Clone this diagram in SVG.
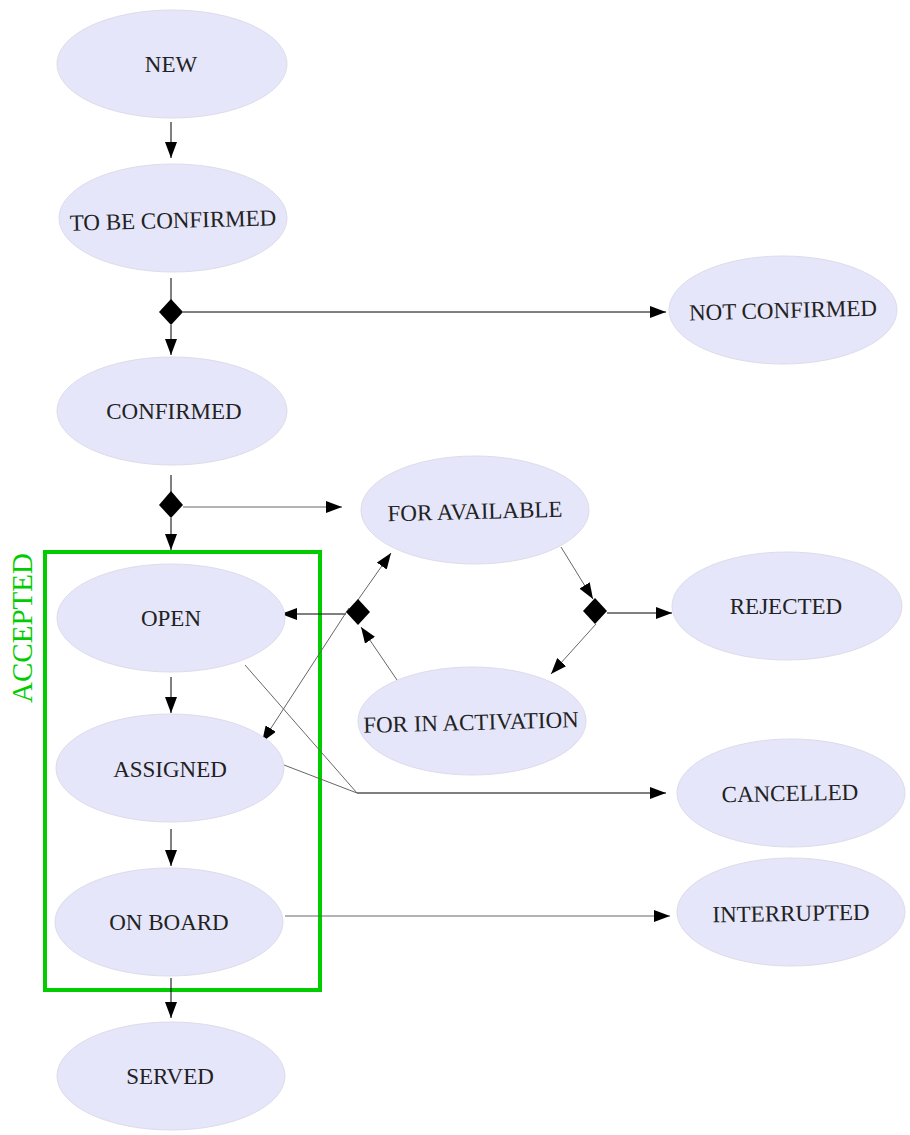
<svg xmlns="http://www.w3.org/2000/svg" width="910" height="1135" viewBox="0 0 910 1135">
<style>
.node ellipse{fill:#e6e6fa;stroke:#dcdcea;stroke-width:1}
.node text{font-family:"Liberation Serif","Times New Roman",serif;font-size:23px;fill:#222;text-anchor:middle}
.c line,.c polyline{stroke:#000;stroke-width:1;fill:none}
.c .g{stroke:#666}
.dia{fill:#000}
</style>
<defs>
<marker id="ah" viewBox="0 0 16 12" refX="16" refY="6" markerWidth="16" markerHeight="12" markerUnits="userSpaceOnUse" orient="auto">
<path d="M0,0 L16,6 L0,12 Z" fill="#000"/>
</marker>
</defs>
<rect x="45" y="552" width="275" height="438" fill="none" stroke="#00cc00" stroke-width="4"/>
<text x="0" y="0" transform="translate(32,628) rotate(-90)" font-family="Liberation Serif, serif" font-size="29" fill="#00cc00" text-anchor="middle">ACCEPTED</text>
<g class="c" id="connectors">
<line x1="171" y1="122" x2="171" y2="158" marker-end="url(#ah)"/>
<line x1="171" y1="278" x2="171" y2="300"/>
<line x1="171" y1="325" x2="171" y2="355" marker-end="url(#ah)"/>
<line x1="183" y1="312" x2="666" y2="312" marker-end="url(#ah)"/>
<line x1="171" y1="475" x2="171" y2="492"/>
<line x1="171" y1="518" x2="171" y2="550" marker-end="url(#ah)"/>
<line class="g" x1="183" y1="507" x2="342" y2="507" marker-end="url(#ah)"/>
<line x1="171" y1="677" x2="171" y2="713" marker-end="url(#ah)"/>
<line x1="171" y1="829" x2="171" y2="866" marker-end="url(#ah)"/>
<line x1="171" y1="978" x2="171" y2="1018" marker-end="url(#ah)"/>
<line x1="346" y1="614" x2="281" y2="614" marker-end="url(#ah)"/>
<line class="g" x1="348" y1="614" x2="391" y2="553" marker-end="url(#ah)"/>
<line class="g" x1="349" y1="608" x2="262" y2="742" marker-end="url(#ah)"/>
<line class="g" x1="397" y1="680" x2="361" y2="627" marker-end="url(#ah)"/>
<line class="g" x1="561" y1="547" x2="593" y2="599" marker-end="url(#ah)"/>
<line class="g" x1="596" y1="624" x2="551" y2="674" marker-end="url(#ah)"/>
<line x1="607" y1="613" x2="672" y2="613" marker-end="url(#ah)"/>
<polyline class="g" points="245,665 357,793 284,765"/>
<line x1="357" y1="793" x2="666" y2="793" marker-end="url(#ah)"/>
<line class="g" x1="285" y1="916" x2="670" y2="916" marker-end="url(#ah)"/>
<polygon class="dia" points="171,299 183,312 171,325 159,312"/>
<polygon class="dia" points="171,491 183,505 171,518 159,505"/>
<polygon class="dia" points="358,599 370,612 358,625 346,612"/>
<polygon class="dia" points="595,598 607,611 595,624 583,611"/>
</g>
<g class="node" id="new"><ellipse cx="172" cy="64" rx="115" ry="54"/><text x="171" y="72">NEW</text></g>
<g class="node" id="tobeconfirmed"><ellipse cx="173" cy="218" rx="114" ry="54"/><text x="173" y="228" transform="rotate(-1.5 173 220)">TO BE CONFIRMED</text></g>
<g class="node" id="confirmed"><ellipse cx="172" cy="411" rx="115" ry="54"/><text x="174" y="419">CONFIRMED</text></g>
<g class="node" id="notconfirmed"><ellipse cx="783" cy="310" rx="114" ry="54"/><text x="783" y="318" transform="rotate(-1.5 783 310)">NOT CONFIRMED</text></g>
<g class="node" id="foravailable"><ellipse cx="475" cy="510" rx="114" ry="54"/><text x="475" y="519" transform="rotate(-1.5 475 511)">FOR AVAILABLE</text></g>
<g class="node" id="forinactivation"><ellipse cx="472" cy="721" rx="114" ry="54"/><text x="471" y="730" transform="rotate(-1.5 471 722)">FOR IN ACTIVATION</text></g>
<g class="node" id="open"><ellipse cx="171" cy="618" rx="114" ry="54"/><text x="171" y="626">OPEN</text></g>
<g class="node" id="assigned"><ellipse cx="170" cy="768" rx="114" ry="54"/><text x="170" y="777">ASSIGNED</text></g>
<g class="node" id="onboard"><ellipse cx="169" cy="922" rx="114" ry="54"/><text x="169" y="930">ON BOARD</text></g>
<g class="node" id="served"><ellipse cx="171" cy="1076" rx="114" ry="54"/><text x="170" y="1084">SERVED</text></g>
<g class="node" id="rejected"><ellipse cx="787" cy="606" rx="115" ry="54"/><text x="786" y="614">REJECTED</text></g>
<g class="node" id="cancelled"><ellipse cx="791" cy="793" rx="114" ry="54"/><text x="790" y="801" transform="rotate(-1 790 793)">CANCELLED</text></g>
<g class="node" id="interrupted"><ellipse cx="791" cy="912" rx="114" ry="54"/><text x="791" y="921" transform="rotate(-1 791 913)">INTERRUPTED</text></g>
</svg>
